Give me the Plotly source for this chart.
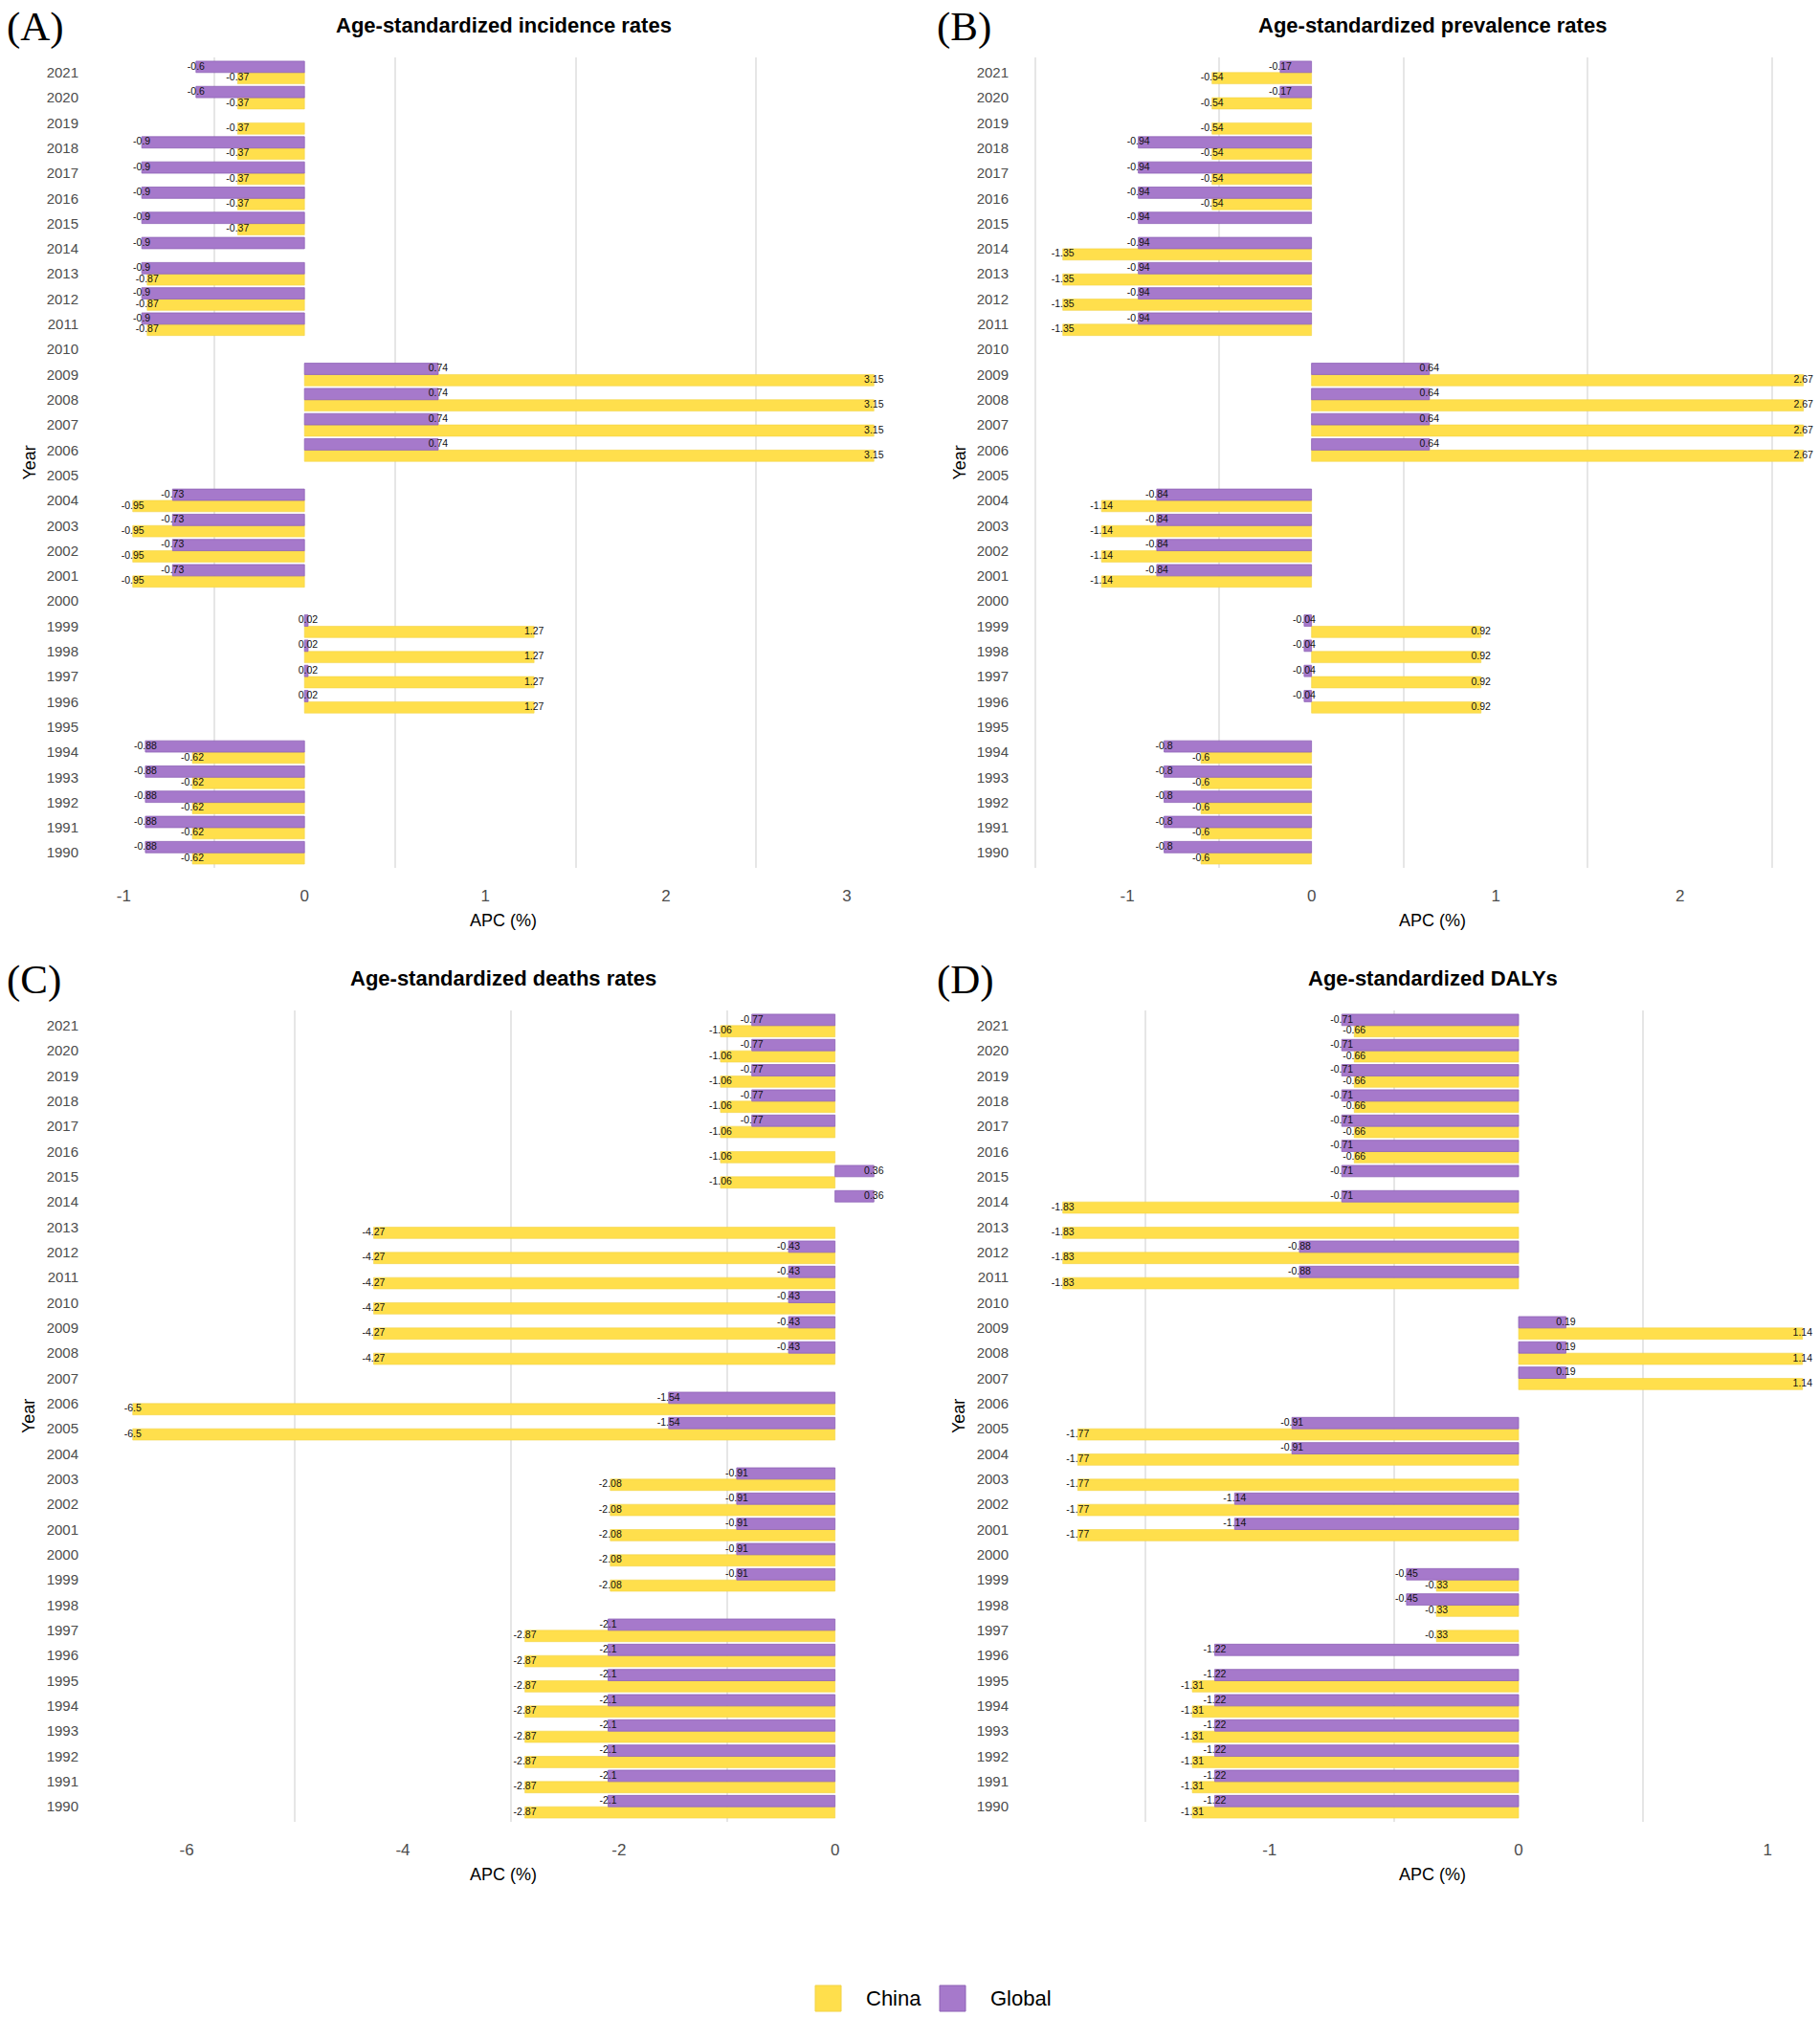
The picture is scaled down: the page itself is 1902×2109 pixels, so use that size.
import plotly.graph_objects as go

W, H = 1902, 2109

years = list(range(1990, 2022))

# APC values, 1990 -> 2021 (None = no bar in that year)
inc_china = [-0.62, -0.62, -0.62, -0.62, -0.62, None, 1.27, 1.27, 1.27, 1.27, None,
             -0.95, -0.95, -0.95, -0.95, None, 3.15, 3.15, 3.15, 3.15, None,
             -0.87, -0.87, -0.87, None, -0.37, -0.37, -0.37, -0.37, -0.37, -0.37, -0.37]
inc_global = [-0.88, -0.88, -0.88, -0.88, -0.88, None, 0.02, 0.02, 0.02, 0.02, None,
              -0.73, -0.73, -0.73, -0.73, None, 0.74, 0.74, 0.74, 0.74, None,
              -0.9, -0.9, -0.9, -0.9, -0.9, -0.9, -0.9, -0.9, None, -0.6, -0.6]

prev_china = [-0.6, -0.6, -0.6, -0.6, -0.6, None, 0.92, 0.92, 0.92, 0.92, None,
              -1.14, -1.14, -1.14, -1.14, None, 2.67, 2.67, 2.67, 2.67, None,
              -1.35, -1.35, -1.35, -1.35, None, -0.54, -0.54, -0.54, -0.54, -0.54, -0.54]
prev_global = [-0.8, -0.8, -0.8, -0.8, -0.8, None, -0.04, -0.04, -0.04, -0.04, None,
               -0.84, -0.84, -0.84, -0.84, None, 0.64, 0.64, 0.64, 0.64, None,
               -0.94, -0.94, -0.94, -0.94, -0.94, -0.94, -0.94, -0.94, None, -0.17, -0.17]

death_china = [-2.87, -2.87, -2.87, -2.87, -2.87, -2.87, -2.87, -2.87, None,
               -2.08, -2.08, -2.08, -2.08, -2.08, None, -6.5, -6.5, None,
               -4.27, -4.27, -4.27, -4.27, -4.27, -4.27, None,
               -1.06, -1.06, -1.06, -1.06, -1.06, -1.06, -1.06]
death_global = [-2.1, -2.1, -2.1, -2.1, -2.1, -2.1, -2.1, -2.1, None,
                -0.91, -0.91, -0.91, -0.91, -0.91, None, -1.54, -1.54, None,
                -0.43, -0.43, -0.43, -0.43, -0.43, None, 0.36, 0.36, None,
                -0.77, -0.77, -0.77, -0.77, -0.77]

daly_china = [-1.31, -1.31, -1.31, -1.31, -1.31, -1.31, None, -0.33, -0.33, -0.33, None,
              -1.77, -1.77, -1.77, -1.77, -1.77, None, 1.14, 1.14, 1.14, None,
              -1.83, -1.83, -1.83, -1.83, None, -0.66, -0.66, -0.66, -0.66, -0.66, -0.66]
daly_global = [-1.22, -1.22, -1.22, -1.22, -1.22, -1.22, -1.22, None, -0.45, -0.45, None,
               -1.14, -1.14, None, -0.91, -0.91, None, 0.19, 0.19, 0.19, None,
               -0.88, -0.88, None, -0.71, -0.71, -0.71, -0.71, -0.71, -0.71, -0.71, -0.71]

titles = ["Age-standardized incidence rates", "Age-standardized prevalence rates",
          "Age-standardized deaths rates", "Age-standardized DALYs"]
tags = ["(A)", "(B)", "(C)", "(D)"]
x_ticks = [[-1, 0, 1, 2, 3], [-1, 0, 1, 2], [-6, -4, -2, 0], [-1, 0, 1]]

YELLOW = "#FFDF4C"
PURPLE = "#A679CB"
FONT = "Liberation Sans, Arial, sans-serif"

panels = [
    (inc_china, inc_global),
    (prev_china, prev_global),
    (death_china, death_global),
    (daly_china, daly_global),
]

# layout in pixels: plot areas (left, right, top, bottom), x ranges
boxes = [(100, 952, 60, 907), (1072, 1902, 60, 907),
         (100, 952, 1056, 1904), (1072, 1902, 1056, 1904)]
x_ranges = [[-1.155, 3.355], [-1.551, 2.76], [-6.843, 0.703], [-1.9785, 1.21]]
minor_grid = [(0.5, 1), (0.5, 1), (1, 2), (0.5, 1)]
title_x = [526, 1497, 526, 1497]


def px(v):
    return v / W


def py(v):
    return 1 - v / H


fig = go.Figure()
annotations = []

for i, (china, glob) in enumerate(panels):
    n = "" if i == 0 else str(i + 1)
    xa, ya = "x" + n, "y" + n

    fig.add_trace(go.Bar(x=china, y=years, orientation="h", name="China",
                         marker=dict(color=YELLOW, line=dict(color="#F2D345", width=0.6)),
                         xaxis=xa, yaxis=ya, showlegend=False))
    fig.add_trace(go.Bar(x=glob, y=years, orientation="h", name="Global",
                         marker=dict(color=PURPLE, line=dict(color="#8E62B6", width=0.8)),
                         xaxis=xa, yaxis=ya, showlegend=False))

    # value labels centred on the bar ends
    for vals, shift in ((china, -0.225), (glob, 0.225)):
        xs = [v for v in vals if v is not None]
        ys = [yr + shift for yr, v in zip(years, vals) if v is not None]
        fig.add_trace(go.Scatter(x=xs, y=ys, mode="text", text=[str(v) for v in xs],
                                 textposition="middle center",
                                 textfont=dict(family=FONT, size=10.5, color="#111111"),
                                 hoverinfo="skip", showlegend=False,
                                 xaxis=xa, yaxis=ya, cliponaxis=False))

    l, r, t, b = boxes[i]
    t0, dt = minor_grid[i]
    fig.layout["xaxis" + n] = dict(
        domain=[px(l), px(r)], anchor=ya, range=x_ranges[i],
        tickvals=x_ticks[i], ticktext=[str(v) for v in x_ticks[i]],
        showgrid=False, zeroline=False, showline=False,
        ticks="outside", ticklen=14, tickcolor="rgba(0,0,0,0)",
        tickfont=dict(family=FONT, size=17, color="#4D4D4D"),
        minor=dict(tick0=t0, dtick=dt, showgrid=True, gridcolor="#E6E6E6", gridwidth=1.6,
                   ticks=""),
        fixedrange=True, automargin=False,
    )
    fig.layout["yaxis" + n] = dict(
        domain=[py(b), py(t)], anchor=xa, range=[1989.4, 2021.6],
        tickvals=years, ticktext=[str(y) for y in years],
        showgrid=False, zeroline=False, showline=False,
        ticks="outside", ticklen=14, tickcolor="rgba(0,0,0,0)",
        tickfont=dict(family=FONT, size=15, color="#4D4D4D"),
        fixedrange=True, automargin=False,
    )

    # panel title
    annotations.append(dict(text="<b>" + titles[i] + "</b>", x=px(title_x[i]), y=py(t - 34),
                            xref="paper", yref="paper", xanchor="center", yanchor="middle",
                            showarrow=False, font=dict(family=FONT, size=22, color="#000000")))
    # panel tag
    annotations.append(dict(text=tags[i], x=px(l - 95), y=py(t - 32),
                            xref="paper", yref="paper", xanchor="left", yanchor="middle",
                            showarrow=False,
                            font=dict(family="Liberation Serif, Times New Roman, serif",
                                      size=43, color="#000000")))
    # axis titles
    annotations.append(dict(text="APC (%)", x=px(title_x[i]), y=py(b + 55),
                            xref="paper", yref="paper", xanchor="center", yanchor="middle",
                            showarrow=False, font=dict(family=FONT, size=18, color="#000000")))
    annotations.append(dict(text="Year", x=px(l - 70), y=py((t + b) / 2), textangle=-90,
                            xref="paper", yref="paper", xanchor="center", yanchor="middle",
                            showarrow=False, font=dict(family=FONT, size=18, color="#000000")))

# legend drawn by hand so the keys can be as large as in the reference
shapes = []
legend_items = [("China", YELLOW, "#F2D345", 852, 903), ("Global", PURPLE, "#8E62B6", 982, 1033)]
for name, col, edge, kx, tx in legend_items:
    shapes.append(dict(type="rect", xref="paper", yref="paper",
                       x0=px(kx), x1=px(kx + 27), y0=py(2102), y1=py(2075),
                       fillcolor=col, line=dict(color=edge, width=1)))
    annotations.append(dict(text=name, x=px(tx), y=py(2088), xref="paper", yref="paper",
                            xanchor="left", yanchor="middle", showarrow=False,
                            font=dict(family=FONT, size=22, color="#000000")))

fig.update_layout(
    width=W, height=H,
    margin=dict(l=0, r=0, t=0, b=0),
    paper_bgcolor="white", plot_bgcolor="white",
    barmode="group", bargap=0.1, bargroupgap=0,
    showlegend=False,
    annotations=annotations, shapes=shapes,
    font=dict(family=FONT),
)

fig.write_html("out.html", config={"displayModeBar": False},
               post_script="document.body.style.margin='0';")
